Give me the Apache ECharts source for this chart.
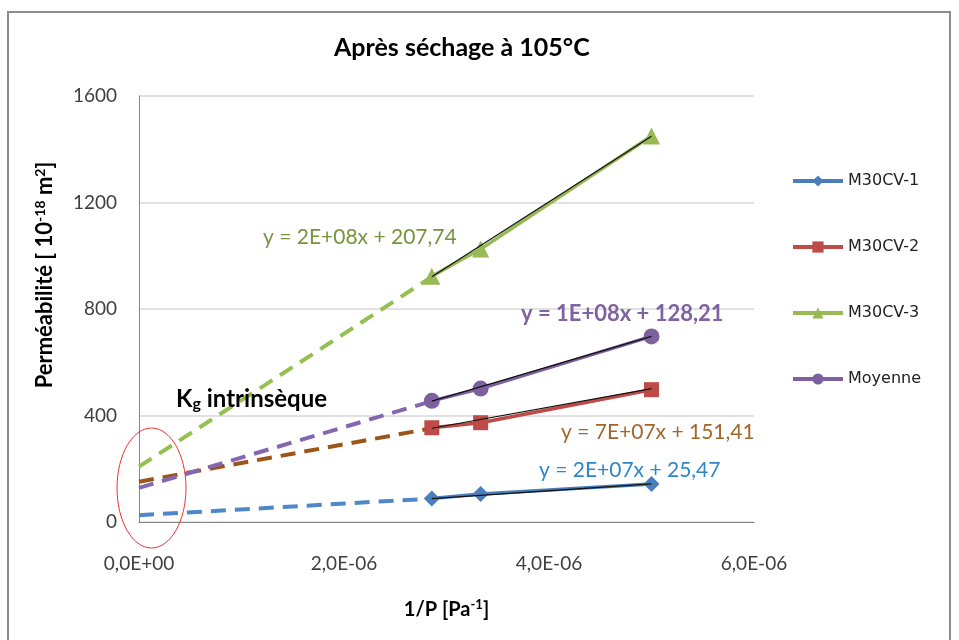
<!DOCTYPE html>
<html><head><meta charset="utf-8">
<script src="https://cdn.jsdelivr.net/npm/echarts@6/dist/echarts.min.js"></script>
<style>html,body{margin:0;padding:0;background:#fff}#c{width:959px;height:640px}</style>
</head><body><div id="c"></div>
<script>
// ---- data ----
const seriesNames = ['M30CV-1', 'M30CV-2', 'M30CV-3', 'Moyenne'];
const xValues = [2.857e-6, 3.333e-6, 5.0e-6];
const cv1 = [88, 105, 143];
const cv2 = [354, 373, 497];
const cv3 = [923, 1025, 1450];
const moy = [455, 501, 697];
// trendlines: extrapolated part (dashed, 0 -> first point) and fitted part (solid black)
const trendX = [0, 2.857e-6, 5.0e-6];
const trend1 = [25.47, 88, 143];
const trend2 = [151.41, 352, 501];
const trend3 = [207.74, 921, 1449];
const trendM = [128.21, 454, 697];
const equations = ['y = 2E+07x + 25,47', 'y = 7E+07x + 151,41', 'y = 2E+08x + 207,74', 'y = 1E+08x + 128,21'];
const xTickLabels = ['0,0E+00', '2,0E-06', '4,0E-06', '6,0E-06'];
const yTicks = [0, 400, 800, 1200, 1600];

const colors = ['#4a7ebb', '#be4b48', '#98b954', '#7d60a0'];
const dashColors = ['#4f88c9', '#9c5519', '#93c04f', '#8566b1'];
const symbols = ['diamond', 'rect', 'triangle', 'circle'];
const symSizes = [16, 15, 17, 16];
const dataSets = [cv1, cv2, cv3, moy];
const trends = [trend1, trend2, trend3, trendM];

const FONT = 'Lato, "Open Sans", sans-serif';
const series = [];
dataSets.forEach((d, i) => {
  series.push({
    name: seriesNames[i], type: 'line', data: xValues.map((x, k) => [x, d[k]]),
    symbol: symbols[i], symbolSize: symSizes[i],
    lineStyle: {color: colors[i], width: 3.5},
    itemStyle: {color: colors[i]}, z: 3
  });
});
trends.forEach((t, i) => {
  series.push({
    type: 'line', data: [[trendX[0], t[0]], [trendX[1], t[1]]], symbol: 'none',
    lineStyle: {color: dashColors[i], width: 4, type: [15, 9]}, z: 2, silent: true
  });
  series.push({
    type: 'line', data: [[trendX[1], t[1]], [trendX[2], t[2]]], symbol: 'none',
    lineStyle: {color: '#111', width: 1.2}, z: 4, silent: true
  });
});

const chart = echarts.init(document.getElementById('c'));
chart.setOption({
  animation: false,
  title: {text: 'Après séchage à 105°C', left: 329, top: 30,
    textStyle: {fontFamily: FONT, fontWeight: 'bold', fontSize: 25, color: '#000'}},
  grid: {left: 139, right: 205, top: 96, bottom: 118},
  legend: {
    data: seriesNames,
    orient: 'vertical', left: 786, top: 168, itemGap: 50, itemWidth: 50, itemHeight: 14,
    lineStyle: {width: 4},
    textStyle: {fontFamily: '"DejaVu Sans", sans-serif', fontSize: 16, color: '#222'}
  },
  xAxis: {
    type: 'value', min: 0, max: 6e-6, interval: 2e-6,
    axisLine: {lineStyle: {color: '#868686'}}, axisTick: {show: false}, splitLine: {show: false},
    axisLabel: {formatter: v => xTickLabels[Math.round(v / 2e-6)], fontFamily: FONT, fontSize: 19, color: '#404040', margin: 32},
    name: '{a|1/P [Pa}{s|-1}{a|]}', nameLocation: 'middle', nameGap: 76,
    nameTextStyle: {rich: {a: {fontFamily: FONT, fontWeight: 'bold', fontSize: 20, color: '#000'},
      s: {fontFamily: FONT, fontWeight: 'bold', fontSize: 13, color: '#000', padding: [0, 0, 10, 0]}}}
  },
  yAxis: {
    type: 'value', min: yTicks[0], max: yTicks[yTicks.length - 1], interval: 400,
    axisLine: {show: true, lineStyle: {color: '#868686'}}, axisTick: {show: false},
    splitLine: {lineStyle: {color: '#d9d9d9', width: 1.5}},
    axisLabel: {formatter: v => String(v), fontFamily: FONT, fontSize: 19, color: '#404040', margin: 22}
  },
  series: series,
  graphic: [
    {type: 'rect', shape: {x: 8, y: 12, width: 942, height: 640}, style: {fill: 'none', stroke: '#8c8c8c', lineWidth: 2}, silent: true},
    {type: 'ellipse', shape: {cx: 151.5, cy: 488, rx: 34.5, ry: 60}, style: {fill: 'none', stroke: '#f03030', lineWidth: 1}, z: 10},
    {type: 'text', x: 45, y: 275, rotation: Math.PI / 2, style: {
      text: '{a|Perméabilité [ 10}{s|-18}{a| m}{s|2}{a|]}', align: 'center', verticalAlign: 'middle',
      rich: {a: {font: 'bold 22px ' + FONT, fill: '#000'}, s: {font: 'bold 14px ' + FONT, fill: '#000', padding: [0, 0, 10, 0]}}
    }, z: 10},
    {type: 'text', x: 263, y: 237, style: {text: equations[2], font: '21px ' + FONT, fill: '#77933c', verticalAlign: 'middle'}, z: 10},
    {type: 'text', x: 521, y: 314, style: {text: equations[3], font: 'bold 22px ' + FONT, fill: '#7f63a1', verticalAlign: 'middle'}, z: 10},
    {type: 'text', x: 561, y: 432, style: {text: equations[1], font: '21px ' + FONT, fill: '#a5652a', verticalAlign: 'middle'}, z: 10},
    {type: 'text', x: 539, y: 470, style: {text: equations[0], font: '21px ' + FONT, fill: '#2e86c9', verticalAlign: 'middle'}, z: 10},
    {type: 'text', x: 176, y: 399, style: {
      text: '{k|K}{g|g}{k| intrinsèque}', verticalAlign: 'middle',
      rich: {k: {font: 'bold 24px ' + FONT, fill: '#000'}, g: {font: 'bold 16px ' + FONT, fill: '#000', padding: [9, 0, 0, 0]}}
    }, z: 10}
  ]
});
</script></body></html>
